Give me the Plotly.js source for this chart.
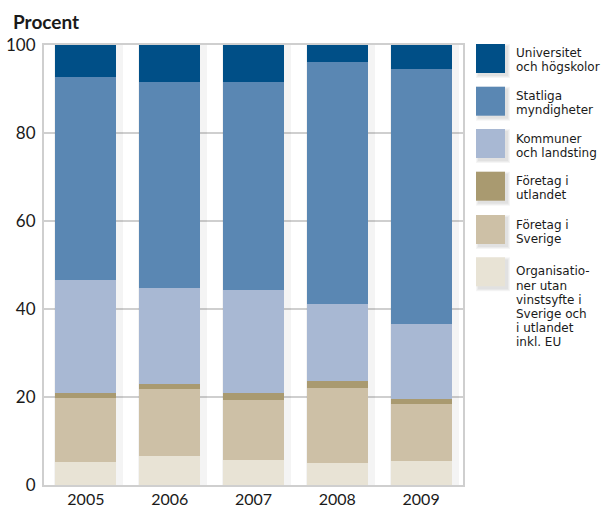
<!DOCTYPE html>
<html><head><meta charset="utf-8">
<script src="https://cdn.plot.ly/plotly-3.0.1.min.js"></script>
<style>html,body{margin:0;padding:0;background:#fff}#chart{width:607px;height:508px}</style>
</head><body><div id="chart"></div>
<script>
var years = ['2005','2006','2007','2008','2009'];
var organisationer = [5.2, 6.6, 5.7, 5.0, 5.5];
var foretagSverige = [14.6, 15.2, 13.6, 17.0, 12.9];
var foretagUtlandet = [1.1, 1.2, 1.6, 1.6, 1.1];
var kommuner = [25.7, 21.8, 23.4, 17.5, 17.1];
var statliga = [46.1, 46.8, 47.3, 55.0, 57.9];
var universitet = [7.3, 8.4, 8.4, 3.9, 5.5];
var yTicks = [0, 20, 40, 60, 80, 100];

var seriesNames = ['Universitet<br>och högskolor','Statliga<br>myndigheter','Kommuner<br>och landsting','Företag i<br>utlandet','Företag i<br>Sverige','Organisatio-<br>ner utan<br>vinstsyfte i<br>Sverige och<br>i utlandet<br>inkl. EU'];
var seriesColors = ['#004f87','#5a87b3','#a8b8d3','#a99a70','#cdc0a6','#e8e3d5'];
var seriesValues = [universitet, statliga, kommuner, foretagUtlandet, foretagSverige, organisationer];

var FONT = 'Lato, "Open Sans", sans-serif';
var LEGFONT = '"DejaVu Sans", sans-serif';

// plot area geometry (pixels)
var L = 44, R = 463, T = 45, B = 485;
var pxPerCat = (R - L) / years.length;
var BARW = 0.73;

// soft drop shadow behind the stacks (totals computed from the series)
var totals = years.map(function(_, c){ return seriesValues.reduce(function(s, arr){ return s + arr[c]; }, 0); });
var traces = [];
for (var k = 4; k >= 1; k--) {
  var wpx = BARW*pxPerCat + 2*k;
  traces.push({type:'bar', x: years, y: totals, xaxis:'x', yaxis:'y',
    width: wpx/pxPerCat, offset: (-BARW*pxPerCat/2 - k + 3)/pxPerCat,
    marker:{color:'rgba(0,0,0,0.045)', line:{width:0}}, hoverinfo:'skip', showlegend:false});
}
for (var i = seriesValues.length - 1; i >= 0; i--) {
  traces.push({type:'bar', x: years, y: seriesValues[i], name: seriesNames[i], xaxis:'x2', yaxis:'y',
    width: BARW, marker:{color: seriesColors[i], line:{width:0}}, hoverinfo:'skip', showlegend:false});
}

function px2x(p){ return (p - L)/(R - L); }
function py2y(p){ return (B - p)/(B - T); }

var shapes = [], annotations = [];
var boxTops = [44, 86.7, 129, 171.7, 215, 257.3];
var firstBaseline = [57, 100.5, 143, 185.5, 229, 275.7];
var lineStep = 14.2;
for (var k2 = 0; k2 < seriesNames.length; k2++) {
  for (var s = 3; s >= 1; s--) {
    shapes.push({type:'rect', xref:'paper', yref:'paper', layer:'above',
      x0:px2x(476 - s + 3), x1:px2x(505 + s + 2), y0:py2y(boxTops[k2] - s + 3), y1:py2y(boxTops[k2] + 29 + s + 2),
      fillcolor:'rgba(0,0,0,0.04)', line:{width:0}});
  }
  shapes.push({type:'rect', xref:'paper', yref:'paper', layer:'above',
    x0:px2x(476), x1:px2x(505), y0:py2y(boxTops[k2]), y1:py2y(boxTops[k2]+29),
    fillcolor: seriesColors[k2], line:{width:0}});
  var lines = seriesNames[k2].split('<br>');
  for (var j = 0; j < lines.length; j++) {
    var base = firstBaseline[k2] + j*lineStep;
    annotations.push({xref:'paper', yref:'paper', x:px2x(514), y:py2y(base-4.3),
      xanchor:'left', yanchor:'middle', showarrow:false, text: lines[j],
      font:{family:LEGFONT, size:12, color:'#1a1a1a'}});
  }
}
annotations.push({xref:'paper', yref:'paper', x:px2x(11), y:py2y(21), xanchor:'left', yanchor:'middle',
  showarrow:false, text:'<b>Procent</b>', font:{family:FONT, size:19, color:'#1a1a1a'}});

var xcommon = {type:'category', range:[-0.5,4.5], fixedrange:true};
var layout = {
  width:607, height:508,
  margin:{l:L, r:607-R, t:T, b:508-B},
  paper_bgcolor:'#fff', plot_bgcolor:'#fff',
  barmode:'stack',
  showlegend:false,
  font:{family:FONT, color:'#1a1a1a'},
  xaxis:Object.assign({}, xcommon, {showgrid:false, showline:true, mirror:true,
    linecolor:'#cfcfcf', linewidth:2, ticks:'', showticklabels:false}),
  xaxis2:Object.assign({}, xcommon, {overlaying:'x', showgrid:false, showline:false, ticks:'outside', ticklen:0,
    tickcolor:'rgba(0,0,0,0)', tickfont:{family:FONT, size:16, color:'#1a1a1a'}}),
  yaxis:{range:[0,100], tickvals:yTicks, ticktext:yTicks.map(String), showgrid:true,
    gridcolor:'#cfcfcf', gridwidth:2, showline:true, mirror:true, linecolor:'#cfcfcf', linewidth:2,
    zeroline:false, ticks:'outside', ticklen:3, tickcolor:'rgba(0,0,0,0)',
    tickfont:{family:FONT, size:17, color:'#1a1a1a'}, fixedrange:true},
  shapes: shapes,
  annotations: annotations
};
Plotly.newPlot('chart', traces, layout, {displayModeBar:false, staticPlot:true});
</script></body></html>
